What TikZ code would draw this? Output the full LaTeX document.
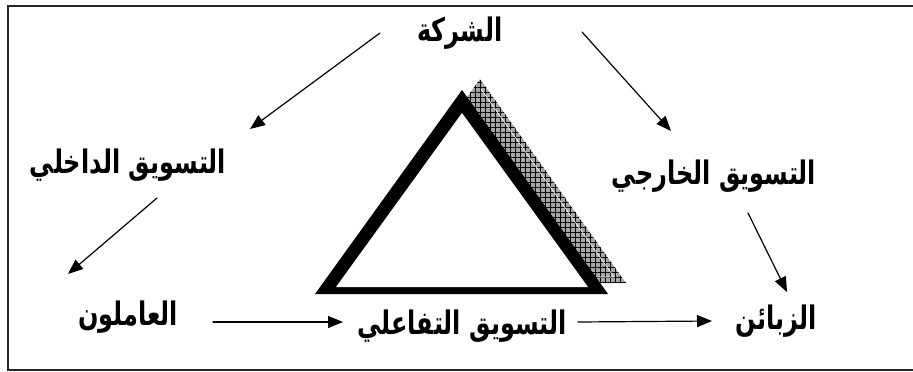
\documentclass[tikz,border=0pt]{standalone}
\usepackage{fontspec}
\newfontfamily\arabicfont[Script=Arabic]{DejaVu Sans}
\TeXXeTstate=1
\usetikzlibrary{arrows.meta,calc,patterns.meta}

\newcommand{\artext}[1]{\scalebox{1}[1.35]{\beginR #1\endR}}

\tikzset{
  lbl/.style={font=\arabicfont\bfseries\fontsize{24}{28}\selectfont,inner sep=0pt},
  arr/.style={->,line width=1.2pt},
}

\begin{document}
\begin{tikzpicture}[x=1pt,y=-1pt,>={Triangle[length=15pt,width=12pt]},line cap=round]
\useasboundingbox (0,0) rectangle (913,372);
\clip (0,0) rectangle (913,372);
% frame
\draw[black!85,line width=2pt] (7.5,5.5) rectangle (925,369.5);
% shadow of the triangle
\fill[gray!70] (480,79) -- (626,283) -- (333,283) -- cycle;
\fill[pattern={Lines[angle=0,distance=5pt,line width=0.6pt]},pattern color=black] (480,79) -- (626,283) -- (333,283) -- cycle;
\fill[pattern={Lines[angle=90,distance=5pt,line width=0.6pt]},pattern color=black] (480,79) -- (626,283) -- (333,283) -- cycle;
\draw[white,line width=0.6pt] (481,89) -- (614,277) -- (598,277);
% triangle
\fill[black] (462,90) -- (608,294) -- (315,294) -- cycle;
\fill[white] (462,113) -- (588,287) -- (336,287) -- cycle;
% labels
\node[lbl] (comp) at (460,33) {\artext{الشركة}};
\node[lbl] (intl) at (128,165) {\artext{التسويق الداخلي}};
\node[lbl] (extl) at (714,176) {\artext{التسويق الخارجي}};
\node[lbl] (work) at (128,317) {\artext{العاملون}};
\node[lbl] (inter) at (462,326) {\artext{التسويق التفاعلي}};
\node[lbl] (cust) at (776,321) {\artext{الزبائن}};
% arrows
\draw[arr] ($(comp)+(-80,0)$) -- ($(intl)+(122,-36)$);
\draw[arr] ($(comp)+(122,-1)$) -- ($(extl)+(-43,-45)$);
\draw[arr] ($(intl)+(29,33)$) -- ($(work)+(-60,-43)$);
\draw[arr] ($(extl)+(34,37)$) -- ($(cust)+(11,-29)$);
\draw[arr] ($(work)+(85,5)$) -- ($(inter)+(-119,-4)$);
\draw[arr] ($(inter)+(116,-4)$) -- ($(cust)+(-64,0)$);
\end{tikzpicture}
\end{document}
